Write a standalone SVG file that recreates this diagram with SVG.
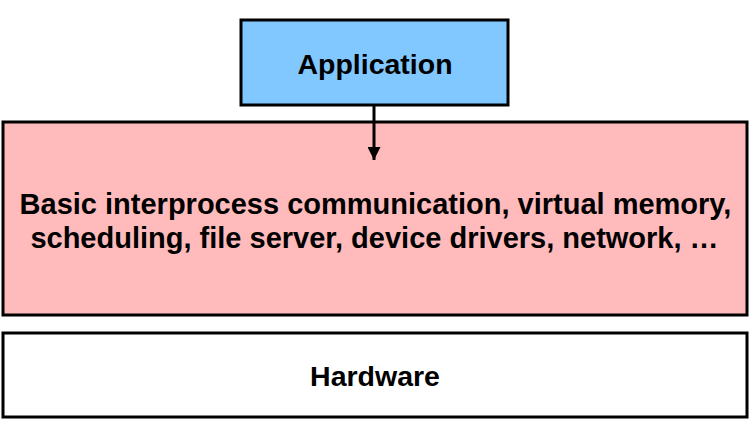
<svg xmlns="http://www.w3.org/2000/svg" width="752" height="422" viewBox="0 0 752 422">
<style>
.box{stroke:#000;stroke-width:3}
.t{font-family:"Liberation Sans",Arial,sans-serif;font-weight:bold;font-size:28.5px;fill:#000;text-anchor:middle}
.big{font-size:29px}
</style>
<defs>
<marker id="ah" markerWidth="13" markerHeight="13" viewBox="0 0 13 13" refX="13" refY="6.5" orient="auto" markerUnits="userSpaceOnUse">
<path d="M0,0 L13,6.5 L0,13 Z" fill="#000"/>
</marker>
</defs>
<rect width="752" height="422" fill="#fff"/>
<g id="kernel">
<rect class="box" x="3" y="122" width="744" height="193" fill="#FFBBBB"/>
<text class="t big" x="375.5" y="213.5">Basic interprocess communication, virtual memory,</text>
<text class="t big" x="374.5" y="247.5">scheduling, file server, device drivers, network, …</text>
</g>
<g id="hardware">
<rect class="box" x="3" y="333" width="744" height="84" fill="#fff"/>
<text class="t" x="375" y="386">Hardware</text>
</g>
<g id="application">
<rect class="box" x="241" y="20" width="267" height="85" fill="#80C8FF"/>
<text class="t" x="375" y="74">Application</text>
</g>
<g id="connectors">
<line x1="374" y1="105" x2="374" y2="160" stroke="#000" stroke-width="3" marker-end="url(#ah)"/>
</g>
</svg>
